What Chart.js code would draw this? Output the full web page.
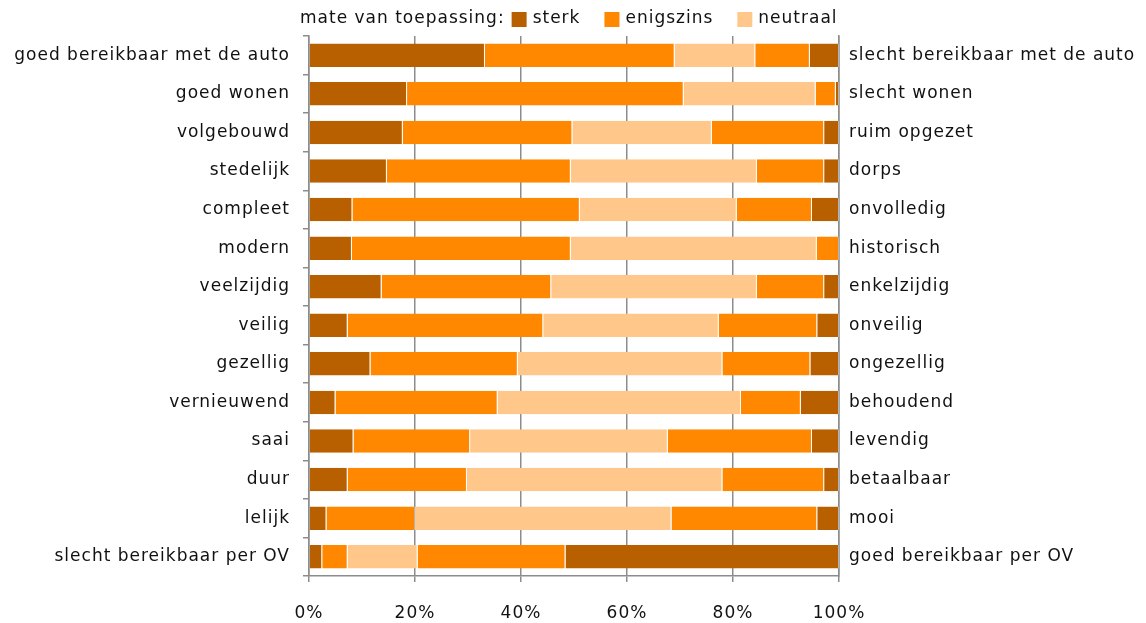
<!DOCTYPE html>
<html>
<head>
    <script src="https://cdn.jsdelivr.net/npm/chart.js"></script>
    <style>
        body { margin: 0; background: #fff; }
        .chart-container { width: 1146px; height: 623px; }
    </style>
</head>
<body>
    <div class="chart-container">
        <canvas id="scaleChart"></canvas>
    </div>
    <script>
        const leftLabels = [
            'goed bereikbaar met de auto', 'goed wonen', 'volgebouwd', 'stedelijk',
            'compleet', 'modern', 'veelzijdig', 'veilig', 'gezellig', 'vernieuwend',
            'saai', 'duur', 'lelijk', 'slecht bereikbaar per OV'
        ];
        const rightLabels = [
            'slecht bereikbaar met de auto', 'slecht wonen', 'ruim opgezet', 'dorps',
            'onvolledig', 'historisch', 'enkelzijdig', 'onveilig', 'ongezellig', 'behoudend',
            'levendig', 'betaalbaar', 'mooi', 'goed bereikbaar per OV'
        ];
        const sterkLeft     = [33.2, 18.5, 17.7, 14.7, 8.2, 8.1, 13.7, 7.3, 11.6, 5.0, 8.4, 7.3, 3.3, 2.5];
        const enigszinsLeft = [35.8, 52.2, 32.0, 34.7, 42.9, 41.3, 32.0, 36.9, 27.8, 30.6, 22.0, 22.5, 16.7, 4.8];
        const neutraal      = [15.2, 24.9, 26.3, 35.1, 29.6, 46.4, 38.8, 33.1, 38.6, 45.9, 37.3, 48.2, 48.4, 13.2];
        const enigszinsRight= [10.3, 3.8, 21.2, 12.7, 14.2, 4.2, 12.7, 18.6, 16.6, 11.3, 27.2, 19.2, 27.5, 27.9];
        const sterkRight    = [5.5, 0.6, 2.8, 2.8, 5.1, 0.0, 2.8, 4.1, 5.4, 7.2, 5.1, 2.8, 4.1, 51.6];
        const xTicks = [0, 20, 40, 60, 80, 100];

        const DARK = '#b86000', MID = '#ff8800', LIGHT = '#ffc78a';
        const FONT = 'DejaVu Sans';
        const SIZE = 17;
        const GRID = '#8c8c8c';

        function ds(label, data, color) {
            return {
                label: label, data: data, backgroundColor: color,
                borderColor: 'rgba(255,255,255,0.35)', borderWidth: { left: 0, right: 1, top: 0, bottom: 0 },
                borderSkipped: false, barPercentage: 0.61, categoryPercentage: 1
            };
        }

        // wider tracking like the original sans face
        const spacingPlugin = {
            id: 'spacing',
            beforeInit(chart) { chart.ctx.letterSpacing = '1px'; },
            beforeUpdate(chart) { chart.ctx.letterSpacing = '1px'; },
            beforeDraw(chart) { chart.ctx.letterSpacing = '1px'; }
        };

        const legendPlugin = {
            id: 'inlineLegend',
            afterDraw(chart) {
                const c = chart.ctx;
                c.save();
                c.letterSpacing = '1px';
                c.font = SIZE + 'px "' + FONT + '"';
                c.textBaseline = 'middle';
                c.fillStyle = '#111';
                let x = 300;
                const y = 19;
                c.fillText('mate van toepassing:', x, y);
                x += c.measureText('mate van toepassing:').width + 7;
                chart.data.datasets.slice(0, 3).forEach(d => {
                    c.fillStyle = d.backgroundColor;
                    c.fillRect(x, y - 7, 15, 15);
                    x += 21;
                    c.fillStyle = '#111';
                    c.fillText(d.label, x, y);
                    x += c.measureText(d.label).width + 24;
                });
                c.restore();
            }
        };

        new Chart(document.getElementById('scaleChart').getContext('2d'), {
            type: 'bar',
            data: {
                labels: leftLabels,
                datasets: [
                    ds('sterk', sterkLeft, DARK),
                    ds('enigszins', enigszinsLeft, MID),
                    ds('neutraal', neutraal, LIGHT),
                    ds('enigszins ', enigszinsRight, MID),
                    ds('sterk ', sterkRight, DARK)
                ]
            },
            options: {
                indexAxis: 'y',
                responsive: true,
                maintainAspectRatio: false,
                animation: false,
                layout: { padding: { top: 36, bottom: 0, left: 0, right: 0 } },
                plugins: { legend: { display: false }, tooltip: { enabled: false } },
                scales: {
                    x: {
                        stacked: true, min: 0, max: 100,
                        afterBuildTicks: s => { s.ticks = xTicks.map(v => ({ value: v })); },
                        afterFit: s => { s.height = 47; },
                        ticks: {
                            callback: v => v + '%',
                            font: { family: FONT, size: SIZE }, color: '#111', padding: 21
                        },
                        grid: { color: GRID, lineWidth: 1.5, tickLength: 6 },
                        border: { color: GRID, width: 1.5 }
                    },
                    y: {
                        stacked: true,
                        afterFit: s => { s.width = 309; },
                        ticks: { font: { family: FONT, size: SIZE }, color: '#111', padding: 13 },
                        grid: { drawOnChartArea: false, color: GRID, lineWidth: 1.5, tickLength: 6 },
                        border: { color: GRID, width: 1.5 }
                    },
                    y2: {
                        type: 'category', position: 'right', labels: rightLabels, offset: true,
                        afterFit: s => { s.width = 307; },
                        ticks: { font: { family: FONT, size: SIZE }, color: '#111', padding: 2 },
                        grid: { display: false },
                        border: { color: GRID, width: 1.5 }
                    }
                }
            },
            plugins: [spacingPlugin, legendPlugin]
        });
    </script>
</body>
</html>
